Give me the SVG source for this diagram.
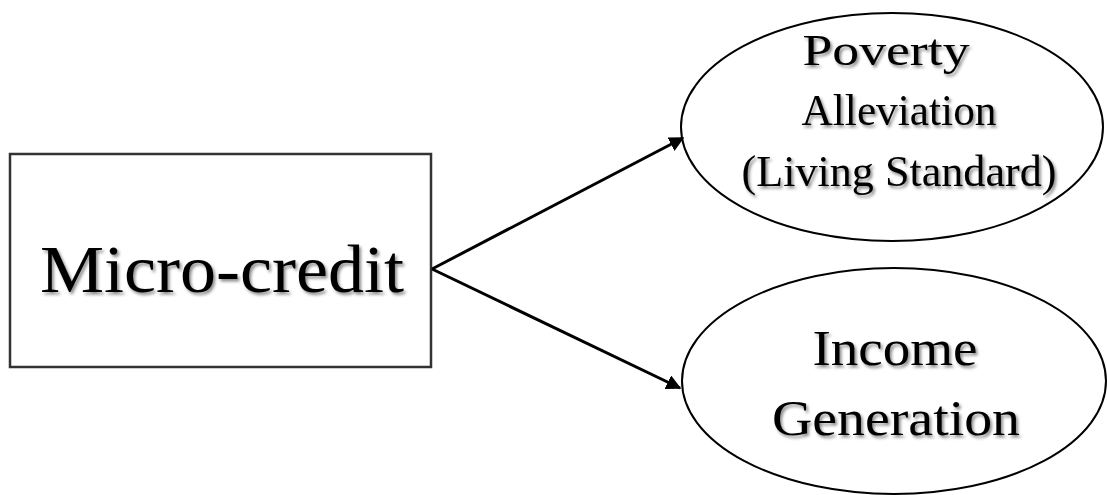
<svg xmlns="http://www.w3.org/2000/svg" width="1107" height="495" viewBox="0 0 1107 495">
<style>
.shape{fill:#fff;stroke:#000;stroke-width:2}
.rectshape{fill:#fff;stroke:#333;stroke-width:2.5}
.lbl{font-family:"Liberation Serif","DejaVu Serif",serif;fill:#000;text-anchor:middle;filter:url(#sh)}
.conn{stroke:#000;stroke-width:3;fill:none;marker-end:url(#ah)}
</style>
<defs>
<filter id="sh" x="-10%" y="-20%" width="120%" height="150%">
<feDropShadow dx="2" dy="2.5" stdDeviation="1.5" flood-color="#000" flood-opacity="0.45"/>
</filter>
<marker id="ah" viewBox="0 0 10 10" refX="9" refY="5" markerWidth="5" markerHeight="5" orient="auto" markerUnits="strokeWidth">
<path d="M0,0 L10,5 L0,10 z" fill="#000"/>
</marker>
</defs>
<rect width="1107" height="495" fill="#fff"/>
<g id="microcredit">
<rect class="rectshape" x="10" y="154" width="421" height="213"/>
<text class="lbl" x="222" y="292" font-size="68" textLength="364" lengthAdjust="spacingAndGlyphs">Micro-credit</text>
</g>
<g id="poverty">
<ellipse class="shape" cx="892" cy="127" rx="211" ry="114"/>
<text class="lbl" x="886" y="65" font-size="45" textLength="167" lengthAdjust="spacingAndGlyphs">Poverty</text>
<text class="lbl" x="899" y="125" font-size="45" textLength="195" lengthAdjust="spacingAndGlyphs">Alleviation</text>
<text class="lbl" x="899" y="186" font-size="45" textLength="315" lengthAdjust="spacingAndGlyphs">(Living Standard)</text>
</g>
<g id="income">
<ellipse class="shape" cx="894" cy="381" rx="212" ry="113"/>
<text class="lbl" x="895" y="365" font-size="50" textLength="165" lengthAdjust="spacingAndGlyphs">Income</text>
<text class="lbl" x="896" y="435" font-size="50" textLength="248" lengthAdjust="spacingAndGlyphs">Generation</text>
</g>
<g id="connectors">
<line class="conn" x1="432" y1="269" x2="683" y2="138"/>
<line class="conn" x1="432" y1="269" x2="680" y2="388"/>
</g>
</svg>
